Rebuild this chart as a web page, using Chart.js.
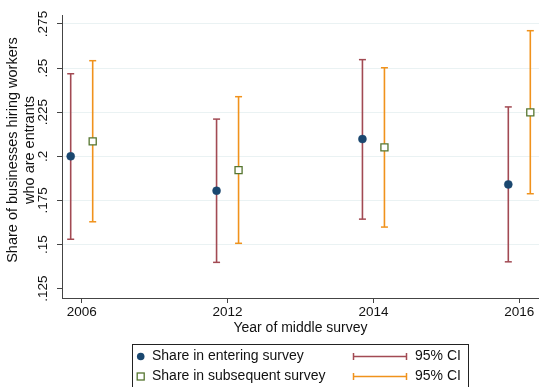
<!DOCTYPE html>
<html>
<head>
<meta charset="utf-8">
<script src="https://cdn.jsdelivr.net/npm/chart.js@4.4.1/dist/chart.umd.min.js"></script>
<style>
  html, body { margin: 0; padding: 0; background: #fff; }
  #wrap { width: 539px; height: 387px; position: relative; }
</style>
</head>
<body>
<div id="wrap"><canvas id="c"></canvas></div>
<script>
// Survey waves (x categories)
const years = ['2006', '2012', '2014', '2016'];

// Share of hiring businesses whose hires are entrants, with 95% CIs
const entering = [0.2000, 0.1805, 0.2098, 0.1841];
const enteringLow = [0.1530, 0.1399, 0.1644, 0.1402];
const enteringHigh = [0.2468, 0.2211, 0.2548, 0.2280];

const subsequent = [0.2085, 0.1922, 0.2051, 0.2249];
const subsequentLow = [0.1629, 0.1507, 0.1599, 0.1788];
const subsequentHigh = [0.2542, 0.2338, 0.2502, 0.2712];

// Y axis ticks
const yTicks = [0.125, 0.15, 0.175, 0.2, 0.225, 0.25, 0.275];
const yTickLabels = ['.125', '.15', '.175', '.2', '.225', '.25', '.275'];

const yTitle = ['Share of businesses hiring workers', 'who are entrants'];
const xTitle = 'Year of middle survey';
const seriesLabels = ['Share in entering survey', 'Share in subsequent survey'];
const ciLabel = '95% CI';

// Styling
const FONT = '"Liberation Sans", Arial, Helvetica, sans-serif';
const NAVY = '#1a476f';
const GREEN = '#55752f';
const MAROON = '#a24a53';
const ORANGE = '#f0921c';
const AXIS = '#444';
const GRID = '#eaf2f3';
const SHIFT = 0.0754; // horizontal dodge of the two series within a wave

const markerPts = (vals, dx) => vals.map((v, i) => ({ x: i + dx, y: v }));
const ciPts = (lo, hi, dx) => lo.flatMap((l, i) => [
  { x: i + dx, y: l }, { x: i + dx, y: hi[i] }, { x: i + dx, y: null }
]);

const annotations = {
  id: 'annotations',
  afterDraw(chart) {
    const { ctx, chartArea, scales } = chart;
    const ys = scales.y;
    ctx.save();
    ctx.fillStyle = '#111';

    // y tick labels, rotated
    ctx.font = '13.5px ' + FONT;
    ctx.textAlign = 'center';
    ctx.textBaseline = 'middle';
    yTicks.forEach((v, i) => {
      const py = ys.getPixelForValue(v);
      ctx.save();
      ctx.translate(43, py);
      ctx.rotate(-Math.PI / 2);
      ctx.fillText(yTickLabels[i], 0, 0);
      ctx.restore();
    });

    // y axis title (two lines)
    ctx.font = '14.5px ' + FONT;
    ctx.save();
    ctx.translate(13, 150);
    ctx.rotate(-Math.PI / 2);
    ctx.fillText(yTitle[0], 0, 0);
    ctx.fillText(yTitle[1], 0, 16.5);
    ctx.restore();

    // x axis title
    ctx.font = '14px ' + FONT;
    ctx.fillText(xTitle, (chartArea.left + chartArea.right) / 2, 328);

    // legend
    const bx = 132.5, by = 344.5, bw = 336, bh = 60;
    ctx.strokeStyle = '#222';
    ctx.lineWidth = 1;
    ctx.strokeRect(bx, by, bw, bh);
    const rows = [356.5, 376.5];

    // row 1 marker: filled circle
    ctx.fillStyle = NAVY;
    ctx.beginPath();
    ctx.arc(140.7, rows[0], 3.8, 0, Math.PI * 2);
    ctx.fill();
    // row 2 marker: hollow square
    ctx.strokeStyle = GREEN;
    ctx.lineWidth = 1.3;
    ctx.fillStyle = '#fff';
    ctx.fillRect(137.2, rows[1] - 3.5, 7, 7);
    ctx.strokeRect(137.2, rows[1] - 3.5, 7, 7);

    ctx.fillStyle = '#111';
    ctx.font = '14px ' + FONT;
    ctx.textAlign = 'left';
    ctx.fillText(seriesLabels[0], 152, rows[0]);
    ctx.fillText(seriesLabels[1], 152, rows[1]);

    // CI samples
    [MAROON, ORANGE].forEach((col, k) => {
      const y = rows[k];
      ctx.strokeStyle = col;
      ctx.lineWidth = 1.5;
      ctx.beginPath();
      ctx.moveTo(353.5, y); ctx.lineTo(406.5, y);
      ctx.moveTo(353.5, y - 3.5); ctx.lineTo(353.5, y + 3.5);
      ctx.moveTo(406.5, y - 3.5); ctx.lineTo(406.5, y + 3.5);
      ctx.stroke();
      ctx.fillStyle = '#111';
      ctx.fillText(ciLabel, 415, y);
    });
    ctx.restore();
  }
};

new Chart(document.getElementById('c'), {
  type: 'scatter',
  data: {
    datasets: [
      {
        label: seriesLabels[0],
        data: markerPts(entering, -SHIFT),
        pointStyle: 'circle',
        pointRadius: 4,
        pointBackgroundColor: NAVY,
        pointBorderColor: NAVY,
        pointBorderWidth: 0.5
      },
      {
        label: seriesLabels[1],
        data: markerPts(subsequent, SHIFT),
        pointStyle: 'rect',
        pointRadius: 5,
        pointBackgroundColor: '#fff',
        pointBorderColor: GREEN,
        pointBorderWidth: 1.3
      },
      {
        label: ciLabel,
        data: ciPts(enteringLow, enteringHigh, -SHIFT),
        showLine: true,
        spanGaps: false,
        borderColor: MAROON,
        borderWidth: 1.6,
        pointStyle: 'line',
        pointRadius: 3.5,
        pointBorderColor: MAROON,
        pointBorderWidth: 1.5
      },
      {
        label: ciLabel,
        data: ciPts(subsequentLow, subsequentHigh, SHIFT),
        showLine: true,
        spanGaps: false,
        borderColor: ORANGE,
        borderWidth: 1.6,
        pointStyle: 'line',
        pointRadius: 3.5,
        pointBorderColor: ORANGE,
        pointBorderWidth: 1.5
      }
    ]
  },
  options: {
    responsive: true,
    maintainAspectRatio: false,
    animation: false,
    layout: { autoPadding: false, padding: { top: 15, left: 0, right: 0, bottom: 0 } },
    plugins: {
      legend: { display: false },
      tooltip: { enabled: false }
    },
    scales: {
      x: {
        type: 'linear',
        min: -0.135,
        max: 3.135,
        afterBuildTicks: (s) => { s.ticks = years.map((_, i) => ({ value: i })); },
        afterFit: (s) => { s.height = 89; s.paddingLeft = 0; s.paddingRight = 0; },
        ticks: {
          callback: (v) => years[v],
          font: { family: FONT, size: 13.5 },
          color: '#111',
          padding: 1,
          maxRotation: 0
        },
        grid: { drawOnChartArea: false, drawTicks: true, tickLength: 5, tickColor: AXIS },
        border: { color: AXIS, width: 1 }
      },
      y: {
        type: 'linear',
        min: 0.1197,
        max: 0.2801,
        afterBuildTicks: (s) => { s.ticks = yTicks.map((v) => ({ value: v })); },
        afterFit: (s) => { s.width = 62; s.paddingTop = 0; s.paddingBottom = 0; },
        ticks: { display: false },
        grid: {
          color: (ctx) => (ctx.tick && ctx.tick.value === yTicks[0]) ? 'rgba(0,0,0,0)' : GRID,
          lineWidth: 1,
          drawTicks: true,
          tickLength: 5,
          tickColor: AXIS
        },
        border: { color: AXIS, width: 1 }
      }
    }
  },
  plugins: [annotations]
});
</script>
</body>
</html>
